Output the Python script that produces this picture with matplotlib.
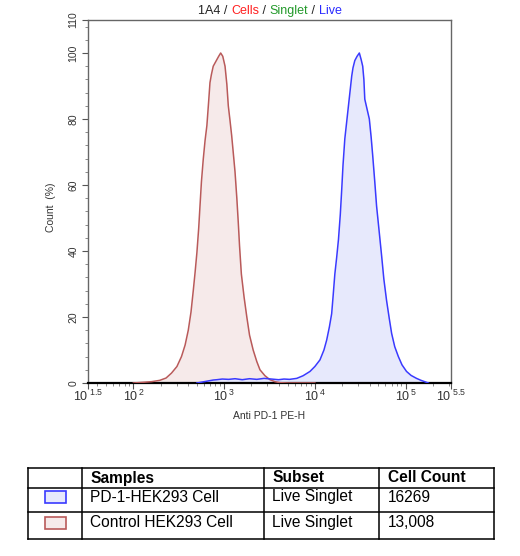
import numpy as np
import matplotlib
matplotlib.use("Agg")
import matplotlib.pyplot as plt
from matplotlib.patches import Rectangle
from matplotlib.lines import Line2D

plt.rcParams['font.family'] = ['Liberation Sans', 'DejaVu Sans']
plt.rcParams['mathtext.fontset'] = 'custom'
plt.rcParams['mathtext.rm'] = 'Liberation Sans'
plt.rcParams['mathtext.it'] = 'Liberation Sans:italic'
plt.rcParams['mathtext.bf'] = 'Liberation Sans:bold'

# ---------------- data (log10 of fluorescence, % of max count) ----------------
control_logx = [2.00, 2.10, 2.20, 2.29, 2.36, 2.42, 2.48, 2.53, 2.57, 2.605, 2.635, 2.66, 2.68,
                2.70, 2.72, 2.734, 2.75, 2.77, 2.79, 2.81, 2.83, 2.844, 2.86, 2.88, 2.91,
                2.94, 2.962, 2.985, 3.01, 3.03, 3.046, 3.065, 3.083, 3.10, 3.12, 3.14,
                3.156, 3.17, 3.19, 3.22, 3.25, 3.28, 3.32, 3.36, 3.395, 3.45, 3.505,
                3.56, 3.615, 3.70, 3.80, 3.90, 4.00]
control_y = [0.0, 0.2, 0.4, 0.8, 1.5, 3.0, 5.0, 8.0, 11.5, 16.0, 21.5, 28.0, 33.5,
             39.5, 47.0, 53.6, 61.0, 67.8, 73.5, 78.0, 85.5, 91.0, 93.5, 96.0, 97.5,
             99.0, 100.0, 99.0, 96.0, 90.5, 84.0, 79.5, 75.0, 70.0, 64.0, 56.0,
             48.6, 41.5, 33.0, 26.0, 20.0, 14.5, 10.0, 6.5, 4.0, 2.2, 1.0,
             0.4, 0.1, 0.0, 0.0, 0.0, 0.0]

pd1_logx = [2.70, 2.76, 2.82, 2.88, 2.92, 2.98, 3.05, 3.12, 3.20, 3.28, 3.36, 3.44, 3.52,
            3.60, 3.66, 3.72, 3.80, 3.87, 3.946, 4.00, 4.056, 4.10, 4.13, 4.16, 4.185,
            4.20, 4.22, 4.24, 4.26, 4.28, 4.296, 4.31, 4.33, 4.35, 4.37, 4.39, 4.406,
            4.42, 4.44, 4.465, 4.49, 4.51, 4.527, 4.54, 4.55, 4.575, 4.60, 4.62,
            4.637, 4.66, 4.68, 4.71, 4.736, 4.76, 4.79, 4.82, 4.846, 4.88, 4.92,
            4.96, 5.01, 5.06, 5.12, 5.17, 5.21, 5.25]
pd1_y = [0.0, 0.3, 0.6, 0.9, 1.0, 1.2, 1.1, 1.3, 1.0, 1.3, 1.1, 1.4, 1.2,
         1.0, 1.2, 1.1, 1.4, 2.2, 3.5, 5.0, 7.0, 10.0, 13.0, 17.0, 21.0,
         26.0, 33.0, 38.0, 43.5, 51.0, 58.7, 66.0, 74.0, 79.0, 84.0, 89.0, 93.0,
         95.5, 97.7, 99.0, 100.0, 98.0, 96.0, 92.0, 86.0, 83.0, 80.0, 74.5,
         69.0, 61.0, 53.6, 45.5, 38.4, 31.5, 25.0, 19.5, 15.0, 11.0, 8.0,
         5.5, 3.5, 2.3, 1.4, 0.8, 0.4, 0.0]

y_ticks = [0, 20, 40, 60, 80, 100, 110]
x_ticks_log = [1.5, 2, 3, 4, 5, 5.5]
x_tick_labels = [r'$10^{\ 1.5}$', r'$10^{\,2}$', r'$10^{\,3}$', r'$10^{\,4}$', r'$10^{\,5}$', r'$10^{\ 5.5}$']

samples = ['PD-1-HEK293 Cell', 'Control HEK293 Cell']
subsets = ['Live Singlet', 'Live Singlet']
cell_counts = ['16269', '13,008']

# ---------------- figure ----------------
W, H = 520, 556
fig = plt.figure(figsize=(W / 100, H / 100), dpi=100)

def fx(px):
    return px / W

def fy(py):
    return 1 - py / H

ax = fig.add_axes([fx(88), fy(383), fx(451) - fx(88), fy(20) - fy(383)])

red_line = '#b95a5a'
red_fill = '#f6eaea'
blue_line = '#3a3aff'
blue_fill = '#e7e9fc'

cx = 10 ** np.array(control_logx)
px_ = 10 ** np.array(pd1_logx)
ax.fill_between(cx, 0, control_y, color=red_fill, lw=0, zorder=1)
ax.fill_between(px_, 0, pd1_y, color=blue_fill, lw=0, zorder=1)
ax.plot(cx, control_y, color=red_line, lw=1.1, zorder=3)
ax.plot(px_, pd1_y, color=blue_line, lw=1.1, zorder=3)

ax.set_xscale('log')
ax.set_xlim(10 ** 1.5, 10 ** 5.5)
ax.set_ylim(0, 110)

ax.set_xticks([10 ** v for v in x_ticks_log])
ax.set_xticklabels(x_tick_labels, fontsize=9, color='#333333')
minor = []
for d in range(1, 6):
    for m in range(2, 10):
        v = m * 10 ** d
        if 10 ** 1.5 < v < 10 ** 5.5:
            minor.append(v)
ax.set_xticks(minor, minor=True)
ax.xaxis.set_minor_formatter(matplotlib.ticker.NullFormatter())

ax.set_yticks(y_ticks)
ax.set_yticklabels([str(v) for v in y_ticks], fontsize=7.5, rotation=90,
                   va='center', color='#333333')
ax.set_yticks([v for v in range(4, 110, 4) if v not in y_ticks], minor=True)

ax.tick_params(axis='x', which='major', length=4, width=0.8, color='#555555', pad=0)
ax.tick_params(axis='x', which='minor', length=2, width=0.6, color='#777777')
ax.tick_params(axis='y', which='major', length=4, width=0.8, color='#555555', pad=3)
ax.tick_params(axis='y', which='minor', length=2, width=0.6, color='#777777')

for s in ['left', 'right', 'top']:
    ax.spines[s].set_color('#666666')
    ax.spines[s].set_linewidth(1.0)
ax.spines['bottom'].set_color('black')
ax.spines['bottom'].set_linewidth(1.6)

ax.set_xlabel('Anti PD-1 PE-H', fontsize=7.5, color='#333333', labelpad=5)
ax.set_ylabel('Count  (%)', fontsize=7.5, color='#333333')
ax.yaxis.set_label_coords(-0.088, 0.485)

# ---------------- colored title ----------------
parts = [('1A4 / ', '#222222'), ('Cells', '#ff2020'), (' / ', '#222222'),
         ('Singlet', '#22992a'), (' / ', '#222222'), ('Live', '#2a2aff')]
renderer = fig.canvas.get_renderer()
texts = []
total = 0
for s, c in parts:
    t = fig.text(0, fy(11), s, color=c, fontsize=9, va='center', ha='left')
    bb = t.get_window_extent(renderer)
    texts.append((t, bb.width))
    total += bb.width
x0 = 270 - total / 2
for t, w in texts:
    t.set_x(x0 / W)
    x0 += w

# ---------------- table ----------------
tl, tr = 28, 494
rows_y = [468, 488, 512, 539]
cols_x = [28, 82, 264, 379, 494]
lw = 1.1
for yy in rows_y:
    fig.add_artist(Line2D([fx(tl), fx(tr)], [fy(yy), fy(yy)], color='black', lw=lw))
for xx in cols_x:
    fig.add_artist(Line2D([fx(xx), fx(xx)], [fy(rows_y[0]), fy(rows_y[-1])], color='black', lw=lw))

headers = ['Samples', 'Subset', 'Cell Count']
for i, h in enumerate(headers):
    fig.text(fx(cols_x[i + 1] + 8.5), fy((rows_y[0] + rows_y[1]) / 2), h,
             fontsize=11.2, fontweight='bold', va='center', ha='left')

sw_line = [blue_line, red_line]
sw_fill = [blue_fill, red_fill]
for r in range(2):
    yc = (rows_y[r + 1] + rows_y[r + 2]) / 2 - 3
    vals = [samples[r], subsets[r], cell_counts[r]]
    for i, v in enumerate(vals):
        fig.text(fx(cols_x[i + 1] + 8.5), fy(yc), v, fontsize=11.2, va='center', ha='left')
    fig.add_artist(Rectangle((fx(45), fy(yc + 6)), fx(66) - fx(45), fy(yc - 6) - fy(yc + 6),
                             facecolor=sw_fill[r], edgecolor=sw_line[r], lw=1.2,
                             transform=fig.transFigure))

fig.savefig('out.png', dpi=100)
